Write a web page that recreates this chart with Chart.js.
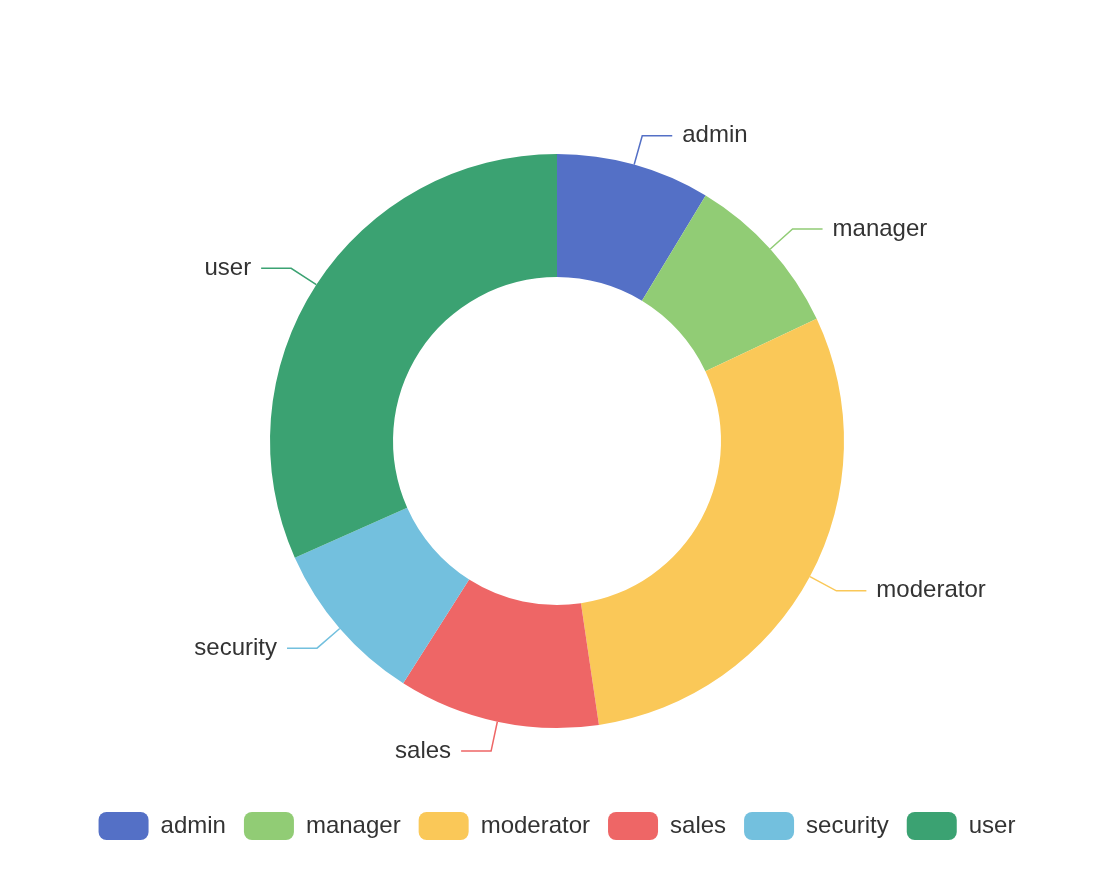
<!DOCTYPE html>
<html>
<head>
<meta charset="utf-8">
<script src="https://cdn.jsdelivr.net/npm/chart.js@4.4.0/dist/chart.umd.min.js"></script>
<style>
  html, body { margin: 0; padding: 0; background: #fff; }
  #wrap { width: 1104px; height: 882px; }
</style>
</head>
<body>
<div id="wrap"><canvas id="rolesChart"></canvas></div>
<script>
// data
const roleNames = ['admin', 'manager', 'moderator', 'sales', 'security', 'user'];
const roleCounts = [26, 28, 89, 34, 28, 95];
const roleColors = ['#5470c6', '#91cc75', '#fac858', '#ee6666', '#73c0de', '#3ba272'];

const FONT = 'Helvetica, Arial, "Liberation Sans", sans-serif';

// outside labels with leader lines, like the original
const leaderLabels = {
    id: 'leaderLabels',
    afterDatasetsDraw(chart) {
        const ctx = chart.ctx;
        const meta = chart.getDatasetMeta(0);
        ctx.save();
        ctx.font = '24px ' + FONT;
        ctx.textBaseline = 'middle';
        meta.data.forEach((arc, i) => {
            const p = arc.getProps(['x', 'y', 'startAngle', 'endAngle', 'outerRadius'], true);
            const mid = (p.startAngle + p.endAngle) / 2;
            const cos = Math.cos(mid), sin = Math.sin(mid);
            const x0 = p.x + cos * p.outerRadius;
            const y0 = p.y + sin * p.outerRadius;
            const x1 = p.x + cos * (p.outerRadius + 30);
            const y1 = p.y + sin * (p.outerRadius + 30);
            const dir = cos >= 0 ? 1 : -1;
            const x2 = x1 + dir * 30;
            ctx.strokeStyle = roleColors[i];
            ctx.lineWidth = 1.5;
            ctx.beginPath();
            ctx.moveTo(x0, y0);
            ctx.lineTo(x1, y1);
            ctx.lineTo(x2, y1);
            ctx.stroke();
            ctx.fillStyle = '#333';
            ctx.textAlign = dir > 0 ? 'left' : 'right';
            ctx.fillText(roleNames[i], x2 + dir * 10, y1);
        });
        ctx.restore();
    }
};

new Chart(document.getElementById('rolesChart'), {
    type: 'doughnut',
    data: {
        labels: roleNames,
        datasets: [{
            data: roleCounts,
            backgroundColor: roleColors,
            borderWidth: 0,
            radius: 287,
            cutout: '57.14%'
        }]
    },
    options: {
        responsive: true,
        maintainAspectRatio: false,
        animation: false,
        layout: { padding: { top: 88, left: 10, right: 0, bottom: 32 } },
        plugins: {
            tooltip: { enabled: false },
            legend: {
                position: 'bottom',
                labels: {
                    boxWidth: 50,
                    boxHeight: 28,
                    useBorderRadius: true,
                    borderRadius: 8,
                    padding: 18,
                    color: '#333',
                    font: { size: 24, family: FONT }
                }
            }
        }
    },
    plugins: [leaderLabels]
});
</script>
</body>
</html>
